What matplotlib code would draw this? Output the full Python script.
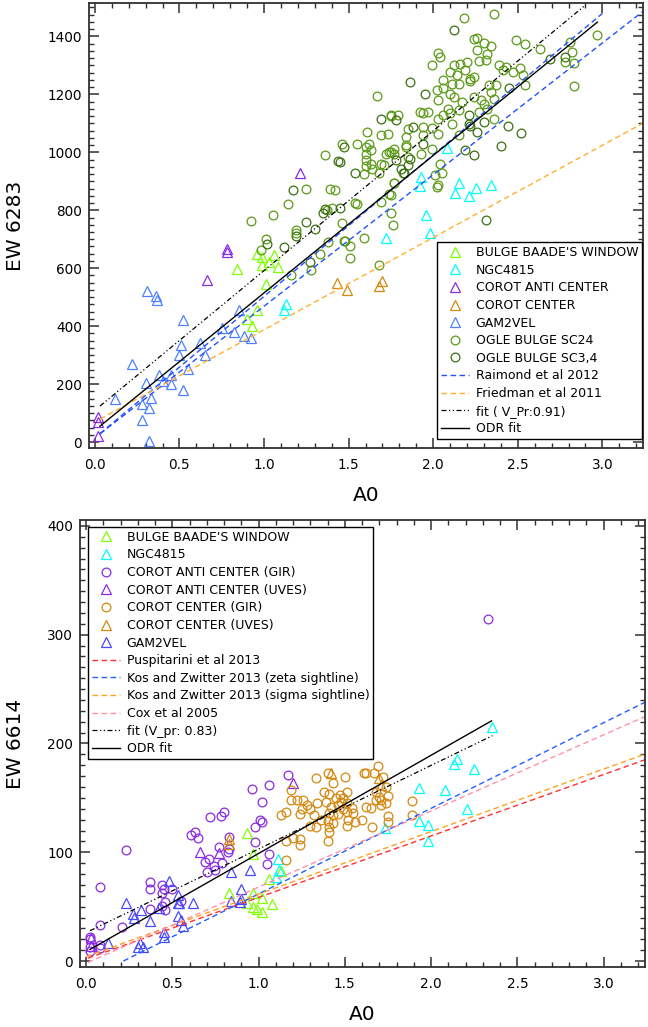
import matplotlib
matplotlib.use('Agg')
import matplotlib.pyplot as plt
import numpy as np
from matplotlib.ticker import MultipleLocator

plt.rcParams['font.family'] = ['DejaVu Sans']

# ---------------- TOP PANEL DATA (EW 6283 vs A0) ----------------
top_baade_x = [0.84, 0.96, 0.99, 1.03, 1.06, 0.99, 1.08, 0.93, 0.96, 1.01, 0.90]
top_baade_y = [598, 650, 612, 622, 645, 640, 605, 400, 455, 545, 425]

top_ngc_x = [2.08, 1.93, 1.92, 2.15, 2.13, 2.25, 2.21, 2.34, 1.96, 1.98, 1.72, 1.12, 1.13]
top_ngc_y = [1014, 914, 883, 893, 859, 876, 849, 887, 783, 721, 703, 455, 475]

top_antic_x = [0.02, 0.02, 0.02, 0.78, 0.78, 0.66, 1.21]
top_antic_y = [86, 69, 21, 665, 655, 560, 928]

top_center_x = [1.43, 1.49, 1.68, 1.70]
top_center_y = [550, 525, 540, 555]

top_gam_x = [0.22, 0.38, 0.30, 0.12, 0.40, 0.45, 0.45, 0.55, 0.52, 0.33, 0.28, 0.32, 0.28, 0.32,
             0.31, 0.36, 0.37, 0.52, 0.62, 0.51, 0.65, 0.85, 0.88, 0.92, 0.82, 0.75, 0.50]
top_gam_y = [269, 231, 204, 148, 210, 231, 200, 252, 179, 152, 131, 117, 76, 3,
             521, 503, 490, 421, 341, 335, 300, 455, 365, 360, 380, 395, 300]

ogle_sc24 = [
    (2.18, 1464), (2.36, 1478), (2.24, 1392), (2.26, 1395), (2.30, 1377), (2.34, 1365),
    (2.32, 1340), (2.26, 1352), (2.49, 1388), (2.54, 1375), (2.63, 1357), (2.81, 1380),
    (2.82, 1346), (2.78, 1311), (2.83, 1308), (2.97, 1403), (2.83, 1227), (2.03, 1342),
    (2.04, 1330), (1.99, 1300), (2.12, 1300), (2.16, 1306), (2.20, 1311), (2.10, 1277),
    (2.14, 1266), (2.19, 1283), (2.22, 1254), (2.24, 1258), (2.27, 1314), (2.31, 1320),
    (2.39, 1300), (2.41, 1283), (2.47, 1277), (2.51, 1289), (2.53, 1266), (2.43, 1294),
    (2.06, 1250), (2.11, 1237), (2.15, 1237), (2.06, 1220), (2.02, 1214), (2.10, 1202),
    (2.03, 1180), (2.12, 1190), (2.22, 1245), (2.33, 1231), (2.37, 1231), (2.34, 1208),
    (2.24, 1190), (2.28, 1180), (2.36, 1185), (2.54, 1231), (2.30, 1168), (2.32, 1151),
    (2.27, 1140), (2.36, 1116), (2.04, 961), (2.01, 921), (2.03, 886), (2.15, 1145),
    (2.17, 1173), (2.09, 1151), (2.10, 1136), (2.06, 1130), (2.03, 1116), (1.92, 1139),
    (1.94, 1136), (1.97, 1139), (1.75, 1127), (1.79, 1127), (1.85, 1082), (1.94, 1087),
    (1.99, 1083), (2.03, 1064), (2.11, 1099), (1.84, 1053), (1.94, 1058), (1.99, 1013),
    (1.84, 1019), (1.75, 1001), (1.77, 995), (1.93, 995), (1.82, 927), (1.77, 893),
    (1.75, 853), (2.15, 1058), (1.67, 1193), (1.75, 1124), (1.61, 1070), (1.69, 1058),
    (1.73, 1064), (1.46, 1027), (1.55, 1027), (1.60, 1018), (1.62, 1030), (1.63, 1007),
    (1.60, 995), (1.36, 990), (1.60, 972), (1.60, 953), (1.63, 961), (1.64, 944),
    (1.69, 961), (1.72, 995), (1.74, 1001), (1.77, 1013), (1.84, 1024), (1.85, 984),
    (1.68, 927), (1.71, 955), (1.59, 924), (1.77, 894), (1.74, 855), (1.69, 829),
    (1.54, 825), (1.55, 820), (1.39, 872), (1.42, 869), (1.25, 875), (1.14, 823),
    (1.37, 800), (1.40, 808), (1.05, 783), (0.92, 763), (1.46, 756), (1.19, 733),
    (1.19, 720), (1.01, 702), (1.48, 694), (1.51, 675), (1.59, 706), (2.02, 880),
    (2.05, 927), (1.28, 593), (1.16, 576), (1.51, 634), (1.68, 610), (1.47, 693),
    (0.98, 662), (1.75, 790), (1.76, 748), (1.38, 690), (1.33, 650)]

ogle_sc34 = [
    (2.12, 1421), (2.69, 1323), (2.78, 1328), (1.86, 1242), (1.95, 1202), (2.45, 1223),
    (2.21, 1099), (2.30, 1105), (2.44, 1090), (2.52, 1066), (2.40, 1021), (2.19, 1007),
    (2.24, 990), (2.31, 765), (1.78, 1110), (1.88, 1087), (1.94, 1027), (1.86, 978),
    (1.85, 955), (1.81, 944), (2.21, 1130), (2.22, 1091), (2.26, 1070), (1.69, 1116),
    (1.47, 1018), (1.44, 970), (1.45, 965), (1.78, 975), (1.83, 927), (1.54, 927),
    (1.17, 869), (1.36, 806), (1.45, 808), (1.25, 760), (1.30, 734), (1.19, 711),
    (1.02, 685), (1.12, 673), (1.35, 791), (1.27, 620)]

# relations: (intercept, slope, x_start, x_end)
top_raimond = [(15, 488, 0.03, 3.0), (15, 454, 0.03, 3.3)]
top_friedman = (70, 318, 0.03, 3.3)
top_fit = (110, 482, 0.03, 2.9)
top_odr = (41, 474, 0.03, 2.97)

# ---------------- BOTTOM PANEL DATA (EW 6614 vs A0) ----------------
bot_baade = [(0.93, 118), (0.97, 98), (0.83, 63), (0.97, 63), (1.06, 75), (1.13, 83),
             (1.02, 58), (1.08, 52), (0.97, 50), (0.99, 48), (1.02, 45), (0.93, 53)]

bot_ngc = [(2.35, 215), (2.15, 186), (2.13, 181), (2.25, 177), (1.93, 159), (2.08, 157),
           (2.21, 140), (1.93, 129), (1.98, 125), (1.98, 110), (1.73, 122), (1.11, 94),
           (1.12, 84), (1.10, 77)]

bot_antic_gir = [
    (0.23, 102), (0.08, 68), (0.08, 33), (0.02, 22), (0.02, 20), (0.02, 13), (0.02, 9),
    (0.08, 15), (0.08, 12), (0.21, 31), (0.37, 73), (0.37, 66), (0.44, 70), (0.44, 63),
    (0.45, 66), (0.46, 54), (0.44, 51), (0.50, 66), (0.55, 55), (0.37, 48), (0.46, 47),
    (0.61, 116), (0.63, 119), (0.65, 113), (0.72, 132), (0.78, 133), (0.80, 137),
    (0.77, 105), (0.69, 91), (0.71, 94), (0.70, 82), (0.75, 84), (0.79, 90), (0.83, 114),
    (0.82, 100), (0.83, 103), (0.96, 158), (1.06, 162), (1.17, 171), (1.02, 146),
    (1.01, 130), (1.02, 128), (0.98, 123), (0.98, 109), (1.06, 98), (1.05, 89),
    (0.74, 87), (2.33, 314)]

bot_antic_uves = [(0.66, 100), (0.77, 99), (1.20, 164), (0.03, 21), (0.03, 14)]

bot_center_gir = [
    (1.13, 134), (1.16, 137), (1.16, 110), (1.24, 112), (1.24, 107), (1.16, 93),
    (1.33, 168), (1.40, 173), (1.43, 164), (1.50, 169), (1.61, 173), (1.67, 173),
    (1.69, 179), (1.72, 169), (1.74, 160), (1.75, 152), (1.71, 148), (1.71, 143),
    (1.19, 157), (1.19, 148), (1.22, 148), (1.26, 148), (1.28, 143), (1.25, 140),
    (1.24, 135), (1.30, 140), (1.32, 134), (1.34, 145), (1.36, 130), (1.30, 124),
    (1.33, 123), (1.38, 155), (1.41, 154), (1.45, 150), (1.47, 153), (1.49, 150),
    (1.51, 155), (1.39, 146), (1.42, 142), (1.46, 143), (1.48, 146), (1.51, 145),
    (1.54, 141), (1.55, 136), (1.51, 137), (1.49, 140), (1.43, 134), (1.46, 135),
    (1.41, 136), (1.40, 129), (1.43, 127), (1.41, 123), (1.41, 119), (1.52, 130),
    (1.56, 128), (1.51, 124), (1.62, 142), (1.65, 141), (1.60, 130), (1.66, 123),
    (1.68, 148), (1.70, 151), (1.74, 145), (1.68, 155), (1.40, 110), (1.20, 113),
    (1.62, 173), (1.89, 147), (1.89, 134), (1.75, 133), (1.75, 128)]

bot_center_uves = [(0.83, 108), (0.83, 112), (1.42, 173), (1.70, 168), (1.71, 162)]

bot_gam = [(0.13, 17), (0.23, 53), (0.27, 43), (0.28, 40), (0.32, 47), (0.37, 37),
           (0.42, 49), (0.45, 27), (0.45, 22), (0.48, 74), (0.53, 61), (0.53, 53),
           (0.53, 41), (0.55, 38), (0.56, 32), (0.62, 53), (0.31, 17), (0.33, 13),
           (0.84, 82), (0.95, 84), (0.84, 55), (0.90, 66), (0.90, 57), (0.89, 54),
           (0.30, 13), (0.54, 53)]

bot_puspitarini = (2, 56.5, 0.01, 3.3)
bot_kos_zeta = (-17, 78.7, 0.216, 3.3)
bot_kos_sigma = (4, 57.5, 0.0, 3.3)
bot_cox = (-2, 70, 0.01, 3.3)
bot_fit = (26.1, 76.9, 0.023, 2.355)
bot_odr = (8.6, 90.3, 0.023, 2.35)

# ---------------- COLOURS ----------------
c_baade = '#7fff00'
c_ngc = '#00ffff'
c_antic = '#8a2be2'
c_center = '#d4880f'
c_gam_top = '#4f80ff'
c_gam_bot = '#4848ff'
c_sc24 = '#5c9a18'
c_sc34 = '#3b7012'

fig = plt.figure(figsize=(6.48, 10.27), dpi=100)
ax1 = fig.add_axes([0.1373, 0.5638, 0.855, 0.4333])
ax2 = fig.add_axes([0.1235, 0.0584, 0.872, 0.4353])


def style(ax, ymaj, ymin):
    for s in ax.spines.values():
        s.set_linewidth(1.3)
        s.set_color('#303030')
    ax.xaxis.set_major_locator(MultipleLocator(0.5))
    ax.xaxis.set_minor_locator(MultipleLocator(0.1))
    ax.yaxis.set_major_locator(MultipleLocator(ymaj))
    ax.yaxis.set_minor_locator(MultipleLocator(ymin))
    ax.tick_params(which='both', direction='in', top=True, right=True,
                   color='#303030', labelsize=9.8)
    ax.tick_params(which='major', length=7, width=1.1)
    ax.tick_params(which='minor', length=3.5, width=1.0)
    ax.tick_params(axis='x', pad=7)
    ax.tick_params(axis='y', pad=5)
    ax.xaxis.set_major_formatter(matplotlib.ticker.FormatStrFormatter('%.1f'))


def pts(ax, x, y, marker, color, label, ms):
    ax.plot(x, y, linestyle='none', marker=marker, mfc='none', mec=color,
            ms=ms, mew=0.9, label=label)


def rel(ax, p, label, **kw):
    a, b, x0, x1 = p
    xs = np.array([x0, x1])
    ax.plot(xs, a + b * xs, label=label, **kw)


tri = 7.0
circ = 6.3
dash = (0, (4, 2.5))
dashdot = (0, (4, 2, 1, 2, 1, 2))

# ---- top ----
pts(ax1, top_baade_x, top_baade_y, '^', c_baade, "BULGE BAADE'S WINDOW", tri)
pts(ax1, top_ngc_x, top_ngc_y, '^', c_ngc, 'NGC4815', tri)
pts(ax1, top_antic_x, top_antic_y, '^', c_antic, 'COROT ANTI CENTER', tri)
pts(ax1, top_center_x, top_center_y, '^', c_center, 'COROT CENTER', tri)
pts(ax1, top_gam_x, top_gam_y, '^', c_gam_top, 'GAM2VEL', tri)
x24, y24 = zip(*ogle_sc24)
x34, y34 = zip(*ogle_sc34)
pts(ax1, x24, y24, 'o', c_sc24, 'OGLE BULGE SC24', circ)
pts(ax1, x34, y34, 'o', c_sc34, 'OGLE BULGE SC3,4', circ)
rel(ax1, top_raimond[0], 'Raimond et al 2012', color='#2050ff', lw=1.0, linestyle=dash)
rel(ax1, top_raimond[1], None, color='#2050ff', lw=1.0, linestyle=dash)
rel(ax1, top_friedman, 'Friedman et al 2011', color='#ffb030', lw=1.0, linestyle=dash)
rel(ax1, top_fit, 'fit ( V_Pr:0.91)', color='black', lw=0.9, linestyle=dashdot)
rel(ax1, top_odr, 'ODR fit', color='black', lw=1.0)

ax1.set_xlim(-0.035, 3.24)
ax1.set_ylim(-20, 1515)
style(ax1, 200, 25)
ax1.set_xlabel('A0', fontsize=14.5)
ax1.set_ylabel('EW 6283', fontsize=14.5)
ax1.xaxis.set_label_coords(0.5, -0.085)
ax1.yaxis.set_label_coords(-0.115, 0.5)
leg1 = ax1.legend(loc='lower right', bbox_to_anchor=(0.998, 0.02), borderaxespad=0,
                  fontsize=9, numpoints=1, handlelength=2.3, handletextpad=0.5,
                  labelspacing=0.37, fancybox=False, framealpha=1, borderpad=0.3)
leg1.get_frame().set_edgecolor('black')
leg1.get_frame().set_linewidth(1.0)

# ---- bottom ----
def unz(lst):
    return list(zip(*lst))

pts(ax2, *unz(bot_baade), '^', c_baade, "BULGE BAADE'S WINDOW", tri)
pts(ax2, *unz(bot_ngc), '^', c_ngc, 'NGC4815', tri)
pts(ax2, *unz(bot_antic_gir), 'o', c_antic, 'COROT ANTI CENTER (GIR)', circ)
pts(ax2, *unz(bot_antic_uves), '^', c_antic, 'COROT ANTI CENTER (UVES)', tri)
pts(ax2, *unz(bot_center_gir), 'o', c_center, 'COROT CENTER (GIR)', circ)
pts(ax2, *unz(bot_center_uves), '^', c_center, 'COROT CENTER (UVES)', tri)
pts(ax2, *unz(bot_gam), '^', c_gam_bot, 'GAM2VEL', tri)
rel(ax2, bot_puspitarini, 'Puspitarini et al 2013', color='#ff3030', lw=1.0, linestyle=dash)
rel(ax2, bot_kos_zeta, 'Kos and Zwitter 2013 (zeta sightline)', color='#2060ff', lw=1.0, linestyle=dash)
rel(ax2, bot_kos_sigma, 'Kos and Zwitter 2013 (sigma sightline)', color='#ffa020', lw=1.0, linestyle=dash)
rel(ax2, bot_cox, 'Cox et al 2005', color='#ff90a8', lw=1.0, linestyle=dash)
rel(ax2, bot_fit, 'fit (V_pr: 0.83)', color='black', lw=0.9, linestyle=dashdot)
rel(ax2, bot_odr, 'ODR fit', color='black', lw=1.0)

ax2.set_xlim(-0.035, 3.24)
ax2.set_ylim(-5.5, 405.5)
style(ax2, 100, 10)
ax2.set_xlabel('A0', fontsize=14.5)
ax2.set_ylabel('EW 6614', fontsize=14.5)
ax2.xaxis.set_label_coords(0.5, -0.085)
ax2.yaxis.set_label_coords(-0.097, 0.5)
leg2 = ax2.legend(loc='upper left', bbox_to_anchor=(0.014, 0.984), borderaxespad=0,
                  fontsize=9, numpoints=1, handlelength=2.3, handletextpad=0.5,
                  labelspacing=0.37, fancybox=False, framealpha=1, borderpad=0.3)
leg2.get_frame().set_edgecolor('black')
leg2.get_frame().set_linewidth(1.0)

fig.savefig('out.png', dpi=100)
